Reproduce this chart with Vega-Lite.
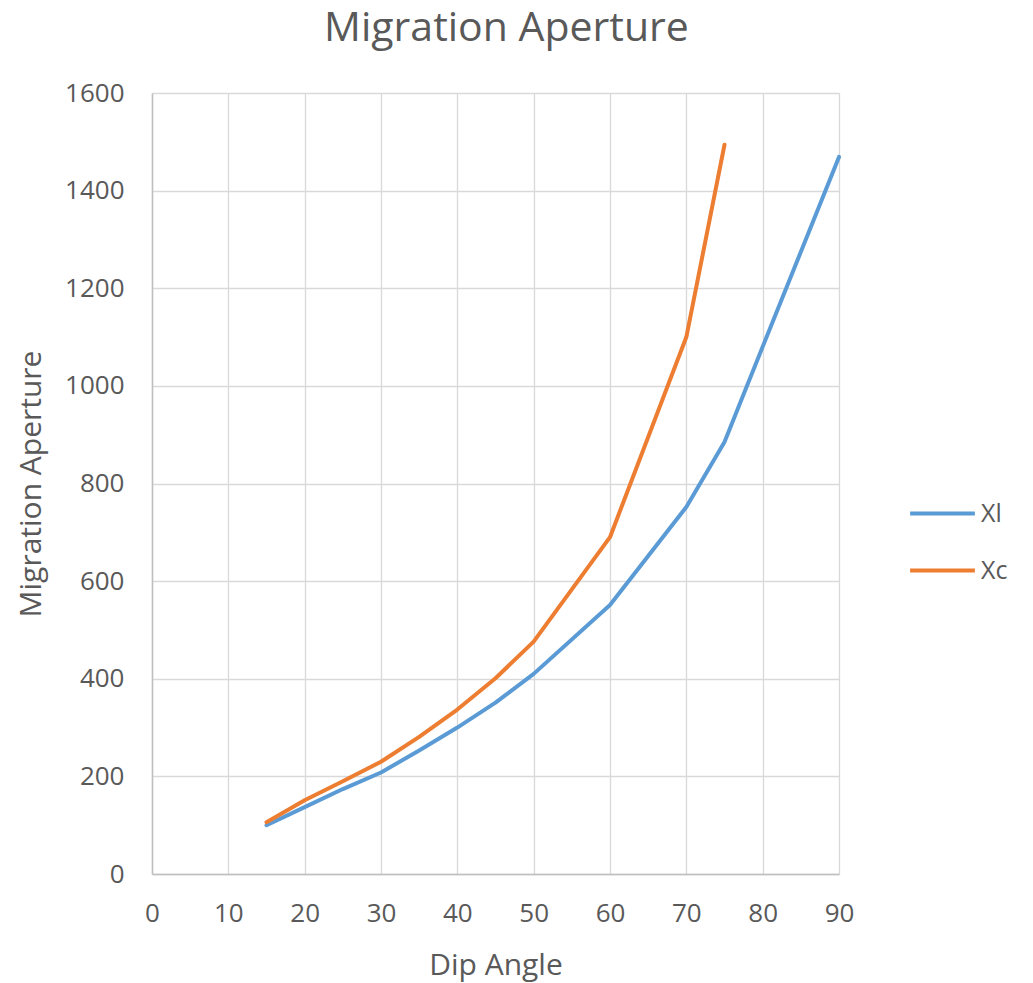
{
  "$schema": "https://vega.github.io/schema/vega-lite/v6.json",
  "autosize": "none",
  "width": 687,
  "height": 781,
  "padding": {"left": 152, "top": 93, "right": 194, "bottom": 109},
  "background": "white",
  "title": {
    "text": "Migration Aperture",
    "font": "Open Sans",
    "fontSize": 41,
    "fontWeight": "normal",
    "color": "#595959",
    "anchor": "middle",
    "dx": 11,
    "offset": 30
  },
  "data": {
    "values": [
      {"angle": 15, "value": 100, "series": "Xl"},
      {"angle": 20, "value": 137, "series": "Xl"},
      {"angle": 25, "value": 174, "series": "Xl"},
      {"angle": 30, "value": 208, "series": "Xl"},
      {"angle": 35, "value": 253, "series": "Xl"},
      {"angle": 40, "value": 300, "series": "Xl"},
      {"angle": 45, "value": 351, "series": "Xl"},
      {"angle": 50, "value": 410, "series": "Xl"},
      {"angle": 60, "value": 551, "series": "Xl"},
      {"angle": 70, "value": 752, "series": "Xl"},
      {"angle": 75, "value": 885, "series": "Xl"},
      {"angle": 80, "value": 1080, "series": "Xl"},
      {"angle": 90, "value": 1469, "series": "Xl"},
      {"angle": 15, "value": 106, "series": "Xc"},
      {"angle": 20, "value": 151, "series": "Xc"},
      {"angle": 25, "value": 190, "series": "Xc"},
      {"angle": 30, "value": 230, "series": "Xc"},
      {"angle": 35, "value": 281, "series": "Xc"},
      {"angle": 40, "value": 337, "series": "Xc"},
      {"angle": 45, "value": 401, "series": "Xc"},
      {"angle": 50, "value": 476, "series": "Xc"},
      {"angle": 60, "value": 690, "series": "Xc"},
      {"angle": 70, "value": 1100, "series": "Xc"},
      {"angle": 75, "value": 1494, "series": "Xc"}
    ]
  },
  "mark": {"type": "line", "strokeWidth": 4, "strokeCap": "round", "strokeJoin": "round"},
  "encoding": {
    "x": {
      "field": "angle",
      "type": "quantitative",
      "scale": {"domain": [0, 90], "nice": false},
      "axis": {
        "values": [0, 10, 20, 30, 40, 50, 60, 70, 80, 90],
        "format": "d",
        "title": "Dip Angle",
        "titlePadding": 24
      }
    },
    "y": {
      "field": "value",
      "type": "quantitative",
      "scale": {"domain": [0, 1600], "nice": false},
      "axis": {
        "values": [0, 200, 400, 600, 800, 1000, 1200, 1400, 1600],
        "format": "d",
        "title": "Migration Aperture",
        "titlePadding": 18
      }
    },
    "color": {
      "field": "series",
      "type": "nominal",
      "scale": {"domain": ["Xl", "Xc"], "range": ["#5B9BD5", "#ED7D31"]},
      "legend": {
        "title": null,
        "orient": "none",
        "legendX": 756,
        "legendY": 386,
        "symbolType": "stroke",
        "symbolStrokeWidth": 4,
        "symbolSize": 4200,
        "rowPadding": 9,
        "labelFont": "Open Sans",
        "labelFontSize": 25,
        "labelColor": "#595959",
        "labelOffset": 4
      }
    }
  },
  "config": {
    "view": {"stroke": null},
    "axis": {
      "labelFont": "Open Sans",
      "labelFontSize": 26,
      "labelColor": "#595959",
      "labelFlush": false,
      "labelBound": false,
      "titleFont": "Open Sans",
      "titleFontSize": 30,
      "titleFontWeight": "normal",
      "titleColor": "#595959",
      "gridColor": "#d9d9d9",
      "gridWidth": 1.3,
      "domainColor": "#bfbfbf",
      "domainWidth": 1.5,
      "ticks": false
    },
    "axisY": {"labelPadding": 28},
    "axisX": {"labelPadding": 26}
  }
}
